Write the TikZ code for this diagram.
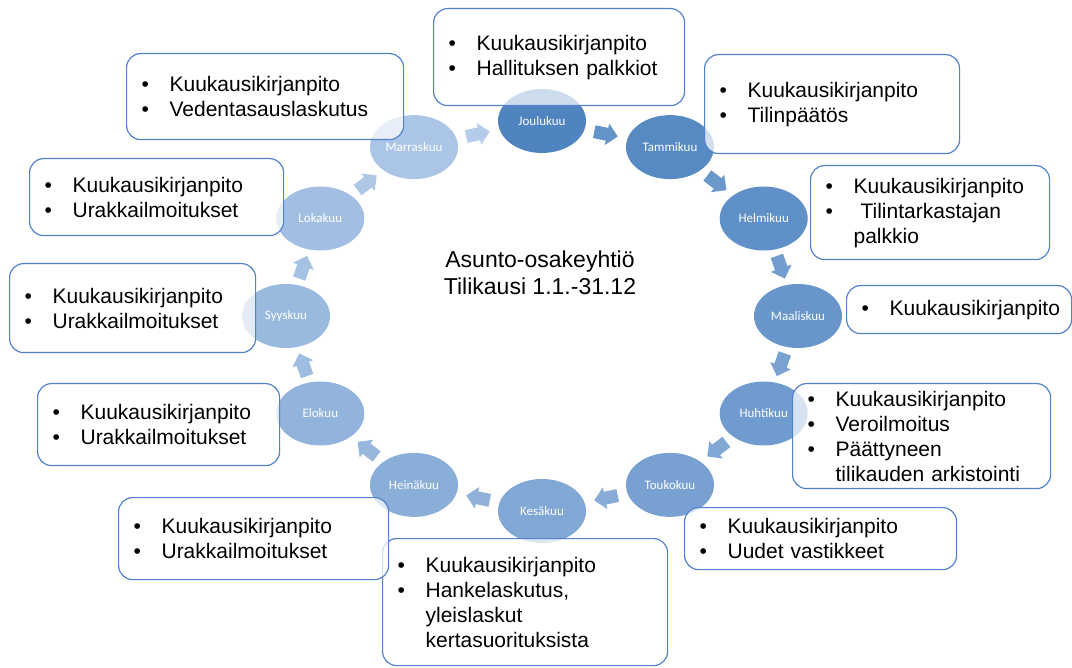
\documentclass[tikz,border=0pt]{standalone}
\usepackage{fontspec}
\setmainfont{Liberation Sans}
\newfontfamily\calib{Carlito}
\usetikzlibrary{shapes.geometric,calc}
\definecolor{cStart}{RGB}{79,132,192}
\definecolor{cEnd}{RGB}{170,197,230}
\definecolor{boxline}{RGB}{84,130,205}
\newcommand{\bitem}[1]{\makebox[28pt][l]{•}#1}
\newcommand{\bcont}[1]{\hspace*{28pt}#1}
\newcommand{\infobox}[6]{%
  \pgfmathsetmacro\bw{#4-#2-30}%
  \pgfmathsetmacro\bh{#5-#3}%
  \node[infobox, text width=\bw pt, minimum height=\bh pt] (#1) at (#2,#3) {#6};}
\begin{document}
\begin{tikzpicture}[x=1pt,y=-1pt,
  month/.style={ellipse, minimum width=88pt, minimum height=64pt, inner sep=0pt,
    text=white, font=\calib\fontsize{13}{15}\selectfont},
  infobox/.style={draw=boxline, line width=1.2pt, rounded corners=14pt, fill=white,
    fill opacity=0.72, text opacity=1, anchor=north west, inner xsep=15pt,
    inner ysep=2pt, align=left, font=\fontsize{21}{25}\selectfont},
  blockarrow/.pic={\fill[pic actions] (-12,-6.5) -- (1,-6.5) -- (1,-11) -- (12,0)
    -- (1,11) -- (1,6.5) -- (-12,6.5) -- cycle;}
]
\fill[white] (0,0) rectangle (1072,668);
\useasboundingbox (0,0) rectangle (1072,668);

\foreach \k/\nm in {0/Joulukuu,1/Tammikuu,2/Helmikuu,3/Maaliskuu,4/Huhtikuu,5/Toukokuu,
  6/Kesäkuu,7/Heinäkuu,8/Elokuu,9/Syyskuu,10/Lokakuu,11/Marraskuu}{
  \pgfmathsetmacro\ang{90-30*\k}
  \pgfmathtruncatemacro\pct{round(100*\k/11)}
  \node[month, fill=cEnd!\pct!cStart] (m\k) at ({542+256*cos(\ang)},{316-195*sin(\ang)}) {\nm};
}

\foreach \k in {0,...,11}{
  \pgfmathtruncatemacro\nx{mod(\k+1,12)}
  \pgfmathtruncatemacro\pct{round(100*\k/11)}
  \path let \p1=($(m\nx)-(m\k)$), \n1={atan2(\y1,\x1)} in
    ($(m\k)!0.5!(m\nx)$) pic[rotate=\n1, fill=cEnd!\pct!cStart!88!white] {blockarrow};
}

\node[font=\fontsize{23}{27}\selectfont, align=center] (title) at (540,273)
  {Asunto-osakeyhtiö\\Tilikausi 1.1.-31.12};

\infobox{b0}{433}{8}{684}{105}{\bitem{Kuukausikirjanpito}\\\bitem{Hallituksen palkkiot}}
\infobox{b1}{704}{54}{959}{153}{\bitem{Kuukausikirjanpito}\\\bitem{Tilinpäätös}}
\infobox{b2}{810}{165}{1049}{259}{\bitem{Kuukausikirjanpito}\\\bitem{\ Tilintarkastajan}\\\bcont{palkkio}}
\infobox{b3}{846}{285}{1071}{333}{\bitem{Kuukausikirjanpito}}
\infobox{b4}{792}{383}{1050}{488}{\bitem{Kuukausikirjanpito}\\\bitem{Veroilmoitus}\\\bitem{Päättyneen}\\\bcont{tilikauden arkistointi}}
\infobox{b5}{684}{507}{956}{569}{\bitem{Kuukausikirjanpito}\\\bitem{Uudet vastikkeet}}
\infobox{b6}{382}{538}{667}{665}{\bitem{Kuukausikirjanpito}\\\bitem{Hankelaskutus,}\\\bcont{yleislaskut}\\\bcont{kertasuorituksista}}
\infobox{b7}{118}{497}{388}{579}{\bitem{Kuukausikirjanpito}\\\bitem{Urakkailmoitukset}}
\infobox{b8}{37}{383}{279}{465}{\bitem{Kuukausikirjanpito}\\\bitem{Urakkailmoitukset}}
\infobox{b9}{9}{263}{255}{352}{\bitem{Kuukausikirjanpito}\\\bitem{Urakkailmoitukset}}
\infobox{b10}{29}{158}{283}{235}{\bitem{Kuukausikirjanpito}\\\bitem{Urakkailmoitukset}}
\infobox{b11}{126}{53}{403}{139}{\bitem{Kuukausikirjanpito}\\\bitem{Vedentasauslaskutus}}
\end{tikzpicture}
\end{document}
